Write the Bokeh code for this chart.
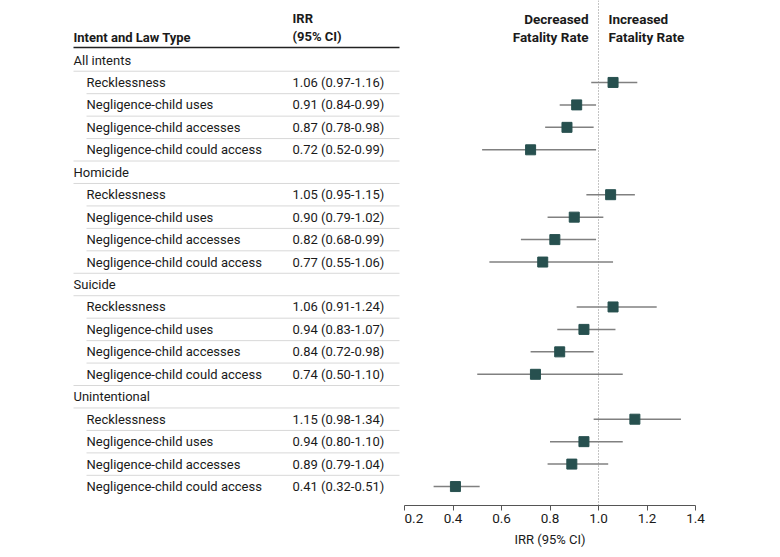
from bokeh.plotting import figure
from bokeh.layouts import row
from bokeh.models import Range1d, FixedTicker, Span, ColumnDataSource
from bokeh.core.properties import value
from bokeh.embed import file_html
from bokeh.resources import INLINE

# ---------------- data ----------------
groups = ["All intents", "Homicide", "Suicide", "Unintentional"]
law_types = ["Recklessness", "Negligence-child uses", "Negligence-child accesses",
             "Negligence-child could access"]
irr_all = [1.06, 0.91, 0.87, 0.72]
lo_all = [0.97, 0.84, 0.78, 0.52]
hi_all = [1.16, 0.99, 0.98, 0.99]
irr_hom = [1.05, 0.90, 0.82, 0.77]
lo_hom = [0.95, 0.79, 0.68, 0.55]
hi_hom = [1.15, 1.02, 0.99, 1.06]
irr_sui = [1.06, 0.94, 0.84, 0.74]
lo_sui = [0.91, 0.83, 0.72, 0.50]
hi_sui = [1.24, 1.07, 0.98, 1.10]
irr_uni = [1.15, 0.94, 0.89, 0.41]
lo_uni = [0.98, 0.80, 0.79, 0.32]
hi_uni = [1.34, 1.10, 1.04, 0.51]
x_ticks = [0.2, 0.4, 0.6, 0.8, 1.0, 1.2, 1.4]
x_tick_labels = ["0.2", "0.4", "0.6", "0.8", "1.0", "1.2", "1.4"]

series = [(irr_all, lo_all, hi_all), (irr_hom, lo_hom, hi_hom),
          (irr_sui, lo_sui, hi_sui), (irr_uni, lo_uni, hi_uni)]

# ---------------- layout constants (page px) ----------------
FONT = "Roboto"
FS = "13px"
TXT = "#1a1a1a"
ROW0, ROWH = 59.5, 22.45
LEFT_W = 404
TOTAL_W = 776
H = 553
FRAME_BOTTOM = 505
FRAME_W = 291
X_GROUP, X_SUB, X_VAL, X_END = 73, 86, 292, 399

# build row table
labels, label_x, val_text, rows_y = [], [], [], []
pts_y, pts_irr, pts_lo, pts_hi = [], [], [], []
kinds = []
i = 0
for g, (irr, lo, hi) in zip(groups, series):
    y = ROW0 + ROWH * i
    labels.append(g); label_x.append(X_GROUP); val_text.append(""); rows_y.append(y); kinds.append("g")
    i += 1
    for lt, a, b, c in zip(law_types, irr, lo, hi):
        y = ROW0 + ROWH * i
        labels.append(lt); label_x.append(X_SUB); rows_y.append(y); kinds.append("s")
        val_text.append(f"{a:.2f} ({b:.2f}-{c:.2f})")
        pts_y.append(y); pts_irr.append(a); pts_lo.append(b); pts_hi.append(c)
        i += 1

yr = Range1d(FRAME_BOTTOM, 0)

# ---------------- left table figure ----------------
left = figure(width=LEFT_W, height=H, x_range=Range1d(0, LEFT_W), y_range=yr,
              output_backend="svg", toolbar_location=None,
              min_border_left=0, min_border_right=0, min_border_top=0,
              min_border_bottom=H - FRAME_BOTTOM)
left.axis.visible = False
left.grid.visible = False
left.outline_line_color = None

# separators
sx0, sx1, sy = [], [], []
for k in range(len(labels) - 1):
    yline = rows_y[k] + ROWH / 2
    start = X_SUB if (kinds[k] == "s" and kinds[k + 1] == "s") else X_GROUP
    sx0.append(start); sx1.append(X_END); sy.append(yline)
left.segment(x0=sx0, y0=sy, x1=sx1, y1=sy, line_color="#d8d8d8", line_width=1)
left.segment(x0=[X_GROUP], y0=[47], x1=[X_END], y1=[47], line_color="#222222", line_width=1.5)

src = ColumnDataSource(dict(x=label_x, y=rows_y, t=labels))
left.text(x="x", y="y", text="t", source=src, text_font=value(FONT), text_font_size=FS,
          text_color=TXT, text_baseline="middle", text_align="left")
vsrc = ColumnDataSource(dict(x=[X_VAL] * len(rows_y), y=rows_y, t=val_text))
left.text(x="x", y="y", text="t", source=vsrc, text_font=value(FONT), text_font_size=FS,
          text_color=TXT, text_baseline="middle", text_align="left")

left.text(x=[X_GROUP], y=[37], text=["Intent and Law Type"], text_font=value(FONT),
          text_font_size=FS, text_font_style="bold", text_color=TXT, text_baseline="middle")
left.text(x=[X_VAL, X_VAL], y=[18, 36], text=["IRR", "(95% CI)"], text_font=value(FONT),
          text_font_size=FS, text_font_style="bold", text_color=TXT, text_baseline="middle")

# ---------------- right forest figure ----------------
right = figure(width=TOTAL_W - LEFT_W, height=H, x_range=Range1d(0.2, 1.4), y_range=yr,
               output_backend="svg", toolbar_location=None,
               min_border_left=0, min_border_top=0, min_border_bottom=H - FRAME_BOTTOM,
               min_border_right=TOTAL_W - LEFT_W - FRAME_W)
right.yaxis.visible = False
right.grid.visible = False
right.outline_line_color = None
right.xaxis.ticker = FixedTicker(ticks=x_ticks)
right.xaxis.major_label_overrides = {t: l for t, l in zip(x_ticks, x_tick_labels)}
right.xaxis.minor_tick_line_color = None
right.xaxis.major_tick_in = 0
right.xaxis.major_tick_out = 5
right.xaxis.axis_line_color = "#555555"
right.xaxis.major_tick_line_color = "#555555"
right.xaxis.major_label_text_font = FONT
right.xaxis.major_label_text_font_size = "13.5px"
right.xaxis.major_label_text_color = TXT
right.xaxis.major_label_standoff = 3
right.xaxis.axis_label = "IRR (95% CI)"
right.xaxis.axis_label_text_font = FONT
right.xaxis.axis_label_text_font_size = FS
right.xaxis.axis_label_text_font_style = "normal"
right.xaxis.axis_label_text_color = TXT
right.xaxis.axis_label_standoff = 6

right.add_layout(Span(location=1.0, dimension="height", line_color="#888888",
                      line_dash="1 2", line_width=1))

psrc = ColumnDataSource(dict(y=pts_y, irr=pts_irr, lo=pts_lo, hi=pts_hi))
right.segment(x0="lo", y0="y", x1="hi", y1="y", source=psrc, line_color="#808080", line_width=1.5)
right.scatter(x="irr", y="y", source=psrc, marker="square", size=10,
              fill_color="#27504f", line_color="#27504f")

right.text(x=[1.0, 1.0], y=[18, 36], text=["Decreased", "Fatality Rate"], text_font=value(FONT),
           text_font_size="13.5px", text_font_style="bold", text_color=TXT,
           text_baseline="middle", text_align="right", x_offset=-10)
right.text(x=[1.0, 1.0], y=[18, 36], text=["Increased", "Fatality Rate"], text_font=value(FONT),
           text_font_size="13.5px", text_font_style="bold", text_color=TXT,
           text_baseline="middle", text_align="left", x_offset=10)

p = row(left, right)
open("out.html", "w").write(file_html(p, INLINE))
